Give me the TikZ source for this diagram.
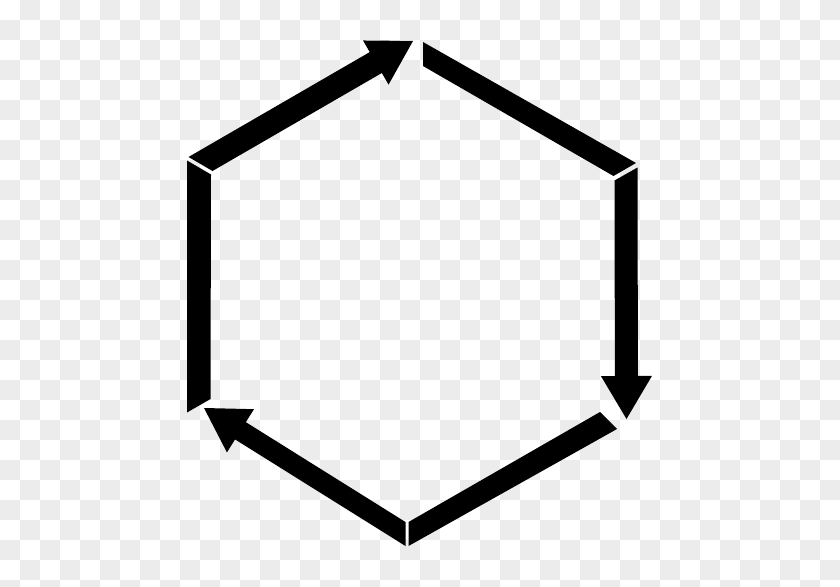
\documentclass[tikz,border=0pt]{standalone}
\usepackage{xcolor}
\usepackage{tikz}
\usetikzlibrary{calc}
\definecolor{checker}{RGB}{236,236,236}

\begin{document}
\begin{tikzpicture}[x=1pt,y=-1pt,
			square/.style={fill=checker},
			bar/.style={fill=black},
			head/.style={fill=black}]
	\useasboundingbox (0,0) rectangle (840,586);
	\fill[white] (0,0) rectangle (840,586);
	% transparency squares
	\foreach \c in {0,...,41}
		\foreach \r in {0,...,29}
		{
			\ifodd\numexpr\c+\r\relax
				\fill[square] (20*\c,20*\r) rectangle ++(20,20);
			\fi
		}
	% corners of the hexagon bars
	\coordinate (ulo) at (188.5,157);
	\coordinate (uli) at (212.5,171);
	\coordinate (ttip) at (413,41);
	\coordinate (to) at (423,42);
	\coordinate (ti) at (423,66);
	\coordinate (uro) at (636,163);
	\coordinate (uri) at (613.5,176);
	\coordinate (ro) at (637.5,167.5);
	\coordinate (ri) at (614.5,180.5);
	\coordinate (rtip) at (626.5,419);
	\coordinate (lro) at (617,429);
	\coordinate (lri) at (600,412);
	\coordinate (bro) at (408.5,546);
	\coordinate (bri) at (408.5,522);
	\coordinate (blo) at (405.5,546);
	\coordinate (bli) at (405.5,522);
	\coordinate (ltip) at (204,408);
	\coordinate (llo) at (187,412.5);
	\coordinate (lli) at (210.5,399);
	\coordinate (lo) at (187,160.5);
	\coordinate (li) at (211,174.5);
	% plain sides
	\fill[bar] (to) -- (uro) -- (uri) -- (ti) -- cycle;
	\fill[bar] (lro) -- (bro) -- (bri) -- (lri) -- cycle;
	\fill[bar] (lo) -- (llo) -- (lli) -- (li) -- cycle;
	% arrow sides
	\foreach \o/\n/\p in {ulo/uli/ttip, ro/ri/rtip, blo/bli/ltip}
	{
		\coordinate (m) at ($(\o)!0.5!(\n)$);
		\coordinate (q) at ($(\p)!32pt!(m)$);
		\fill[bar] (\o) -- (\n) -- ($(\n)+(q)-(m)$) -- ($(\o)+(q)-(m)$) -- cycle;
		\coordinate (hb) at ($(\p)!43pt!(m)$);
		\fill[head] (\p) -- ($(hb)!25.5pt!90:(\p)$) -- ($(hb)!25.5pt!-90:(\p)$) -- cycle;
	}
\end{tikzpicture}
\end{document}
